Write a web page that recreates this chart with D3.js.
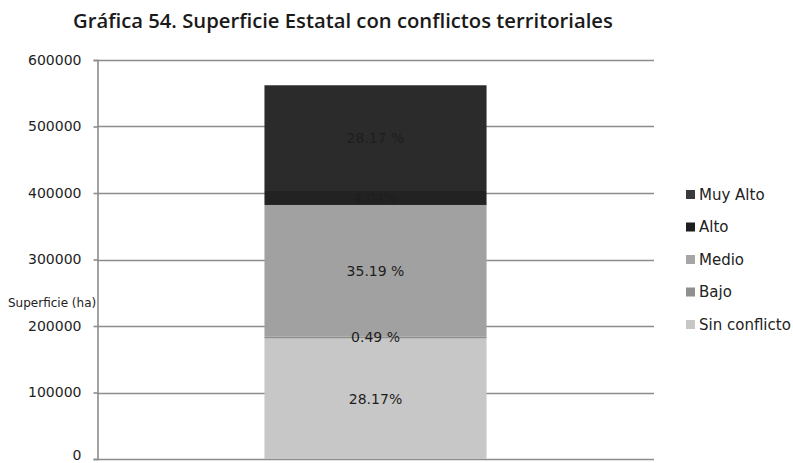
<!DOCTYPE html>
<html>
<head>
<meta charset="utf-8">
<script src="https://cdn.jsdelivr.net/npm/d3@7/dist/d3.min.js"></script>
<style>
  html, body { margin: 0; padding: 0; background: #fff; }
  svg { display: block; }
  text { font-family: "DejaVu Sans", "Open Sans", sans-serif; }
</style>
</head>
<body>
<svg id="chart" width="793" height="463"></svg>
<script>
// Stacked surface (ha) by territorial-conflict level, bottom to top
const categories = ["Sin conflicto", "Bajo", "Medio", "Alto", "Muy Alto"];
const surfaceHa   = [181300, 3100, 197600, 21000, 159000];
const pctLabels   = ["28.17%", "0.49 %", "35.19 %", "4.04%", "28.17 %"];
const colors      = ["#c7c7c7", "#8f8f8f", "#a1a1a1", "#222222", "#2b2b2b"];
const legendColors = ["#c7c7c7", "#8f8f8f", "#a6a6a6", "#1e1e1e", "#3a3a3a"];
const yTicks      = [0, 100000, 200000, 300000, 400000, 500000, 600000];
const barGroup    = ["Superficie"];

const svg = d3.select("#chart");
const plot = { left: 97, right: 654, top: 60, bottom: 459 };

const y = d3.scaleLinear().domain([0, 600000]).range([plot.bottom, plot.top]);
const x = d3.scaleBand().domain(barGroup).range([plot.left, plot.right])
  .paddingInner(0).paddingOuter(0.754);

// Title, sized to span its target width
const title = svg.append("text")
  .attr("x", 73).attr("y", 28)
  .attr("font-size", 20).attr("font-weight", 600).attr("fill", "#1a1a1a")
  .style("font-family", "'Open Sans', sans-serif")
  .text("Gráfica 54. Superficie Estatal con conflictos territoriales");
const tw = title.node().getComputedTextLength();
title.attr("font-size", 20 * 540 / tw);

// Gridlines
svg.append("g")
  .selectAll("line").data(yTicks).join("line")
  .attr("x1", plot.left).attr("x2", plot.right)
  .attr("y1", d => Math.round(y(d)) + 0.5).attr("y2", d => Math.round(y(d)) + 0.5)
  .attr("stroke", "#8c8c8c").attr("stroke-width", 1.6);

// Y axis
const yAxis = d3.axisLeft(y).tickValues(yTicks).tickFormat(d3.format("d")).tickSize(4).tickPadding(12);
const gy = svg.append("g").attr("transform", `translate(${plot.left + 0.5},0)`).call(yAxis);
gy.select(".domain").attr("stroke", "#8c8c8c").attr("stroke-width", 1.6);
gy.selectAll(".tick line").attr("stroke", "#8c8c8c").attr("stroke-width", 1.6);
gy.selectAll(".tick text").attr("font-size", 14).attr("fill", "#1e1e1e")
  .attr("dy", d => d === 0 ? "0.02em" : "0.3em")   // keep the bottom label inside the frame
  .style("font-family", "'DejaVu Sans', sans-serif");

// Axis title
svg.append("text")
  .attr("x", 8).attr("y", 307)
  .attr("font-size", 12).attr("fill", "#222")
  .text("Superficie (ha)");

// Stack the segments
const row = {};
categories.forEach((c, i) => { row[c] = surfaceHa[i]; });
const stacked = d3.stack().keys(categories)([row]);

const bars = svg.append("g");
stacked.forEach((layer, i) => {
  const s = layer[0];
  bars.append("rect")
    .attr("x", x("Superficie"))
    .attr("width", x.bandwidth())
    .attr("y", y(s[1]))
    .attr("height", y(s[0]) - y(s[1]))
    .attr("fill", colors[i]);
});

// Percentage labels at each segment centre
stacked.forEach((layer, i) => {
  const s = layer[0];
  svg.append("text")
    .attr("x", x("Superficie") + x.bandwidth() / 2)
    .attr("y", y((s[0] + s[1]) / 2))
    .attr("dy", "0.36em")
    .attr("text-anchor", "middle")
    .attr("font-size", 14).attr("fill", "#1e1e1e")
    .text(pctLabels[i]);
});

// Legend (top entry is the top segment)
const legendOrder = categories.slice().reverse();
const legend = svg.append("g");
legendOrder.forEach((c, j) => {
  const idx = categories.indexOf(c);
  const ly = 194.5 + j * 32.5;
  legend.append("rect")
    .attr("x", 686).attr("y", ly - 4.5).attr("width", 9).attr("height", 9)
    .attr("fill", legendColors[idx]);
  legend.append("text")
    .attr("x", 699).attr("y", ly).attr("dy", "0.36em")
    .attr("font-size", 15).attr("fill", "#222")
    .text(c);
});
</script>
</body>
</html>
